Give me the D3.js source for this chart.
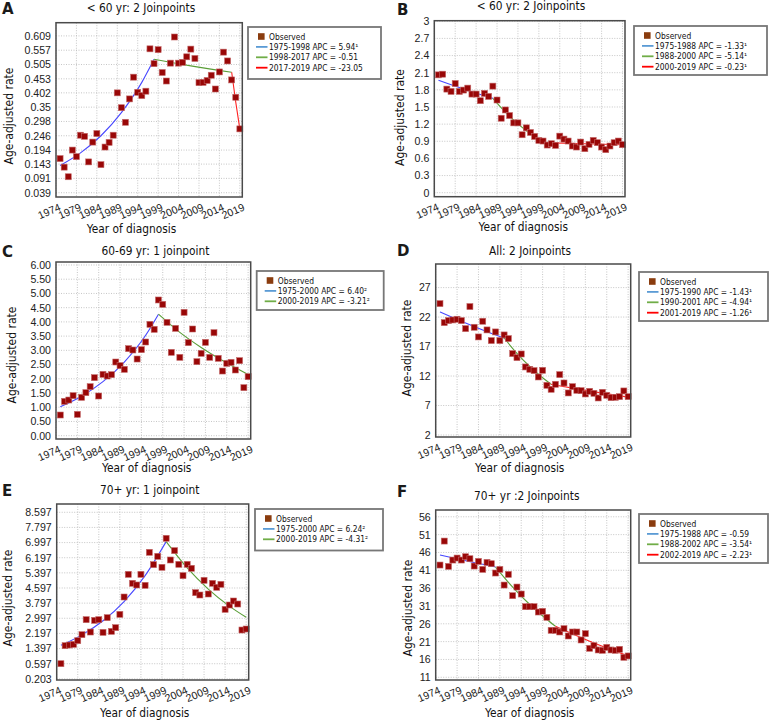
<!DOCTYPE html>
<html><head><meta charset="utf-8">
<script src="https://cdn.jsdelivr.net/npm/d3@7"></script>
<style>
body{margin:0;background:#fff}
svg{display:block;font-family:"DejaVu Sans Condensed","DejaVu Sans",sans-serif}
</style>
</head><body><svg id="c" width="771" height="724"></svg>
<script>
// ---------------- DATA ----------------
const years = [1975,1976,1977,1978,1979,1980,1981,1982,1983,1984,1985,1986,1987,1988,1989,1990,1991,1992,1993,1994,1995,1996,1997,1998,1999,2000,2001,2002,2003,2004,2005,2006,2007,2008,2009,2010,2011,2012,2013,2014,2015,2016,2017,2018,2019];
const xTickYears = [1974,1979,1984,1989,1994,1999,2004,2009,2014,2019];

const obsA = [0.163,0.132,0.097,0.194,0.170,0.248,0.244,0.151,0.223,0.254,
              0.141,0.205,0.222,0.248,0.402,0.348,0.295,0.380,0.459,0.404,
              0.392,0.408,0.562,0.508,0.559,0.476,0.445,0.510,0.605,0.510,
              0.513,0.533,0.561,0.527,0.439,0.440,0.447,0.466,0.416,0.478,
              0.550,0.518,0.449,0.386,0.271];
const obsB = [2.062,2.074,1.813,1.772,1.911,1.772,1.796,1.830,1.726,1.726,
              1.610,1.738,1.685,1.865,1.622,1.303,1.448,1.350,1.222,1.222,
              1.014,1.135,1.054,0.985,0.915,0.904,0.834,0.857,0.828,0.990,
              0.938,0.904,0.817,0.799,0.886,0.770,0.846,0.915,0.875,0.799,
              0.753,0.817,0.875,0.904,0.840];
const obsC = [0.727,1.207,1.254,1.406,0.750,1.348,1.512,1.723,2.039,1.395,
              2.156,2.098,2.145,2.590,2.461,2.332,3.059,3.012,2.695,3.024,
              3.293,3.914,3.738,4.770,4.617,3.984,2.930,3.773,2.754,4.336,
              3.270,3.750,2.602,2.895,3.281,2.754,3.621,2.719,2.273,2.543,
              2.578,2.309,2.637,1.688,2.074];
const obsD = [24.28,21.06,21.40,21.51,21.63,21.40,20.04,23.78,20.27,18.63,
              21.29,19.82,18.01,19.48,18.01,18.97,18.35,15.80,15.12,15.74,
              13.54,13.14,12.92,11.84,12.97,10.43,9.75,10.60,12.24,10.82,
              9.13,10.20,9.58,9.52,8.96,9.41,9.07,8.28,9.24,8.73,
              8.33,8.39,8.50,9.47,8.50];
const obsE = [0.597,1.549,1.584,1.619,1.813,2.130,2.923,2.271,2.888,2.923,
              2.253,3.029,2.306,2.500,3.205,4.121,5.319,4.844,4.756,5.319,
              4.738,6.482,5.830,6.271,5.690,7.223,6.077,6.571,5.848,5.249,
              5.848,5.637,4.350,4.227,5.002,4.280,4.844,4.632,4.791,3.469,
              3.698,3.910,3.751,2.377,2.430];
const obsF = [42.47,49.19,42.09,43.87,44.43,43.87,44.80,44.24,42.19,43.49,
              41.25,43.21,42.84,40.23,41.25,36.86,39.85,33.88,36.30,34.34,
              30.79,30.79,30.79,29.30,29.49,27.81,24.17,24.17,23.70,24.63,
              22.58,23.70,23.70,21.46,23.23,19.12,19.87,18.66,18.56,19.40,
              18.66,18.56,18.84,16.60,16.98];

// joinpoint trend segments
const trendA1 = [[1975,0.138],[1980,0.184],[1985,0.246],[1990,0.330],[1995,0.440],[1998,0.524]];
const trendA2 = [[1998,0.524],[2007,0.500],[2017,0.477]];
const trendA3 = [[2017,0.477],[2018,0.368],[2019,0.270]];
const trendB1 = [[1975,1.969],[1980,1.840],[1985,1.720],[1988,1.651]];
const trendB2 = [[1988,1.651],[1991,1.409],[1994,1.203],[1997,1.027],[2000,0.877]];
const trendB3 = [[2000,0.877],[2010,0.857],[2019,0.840]];
const trendC1 = [[1975,1.020],[1980,1.390],[1985,1.900],[1990,2.590],[1995,3.530],[1998,4.270]];
const trendC2 = [[1998,4.270],[2003,3.630],[2008,3.100],[2013,2.640],[2019,2.150]];
const trendD1 = [[1975,22.87],[1980,21.29],[1985,19.82],[1990,18.45]];
const trendD2 = [[1990,18.45],[1993,15.85],[1996,13.62],[1999,11.70],[2001,10.58]];
const trendD3 = [[2001,10.58],[2010,9.44],[2019,8.42]];
const trendE1 = [[1975,1.566],[1980,2.119],[1985,2.868],[1990,3.881],[1995,5.250],[2000,7.050]];
const trendE2 = [[2000,7.050],[2005,5.660],[2010,4.540],[2015,3.640],[2019,3.050]];
const trendF1 = [[1975,45.27],[1980,43.95],[1985,42.67],[1988,41.90]];
const trendF2 = [[1988,41.90],[1992,36.28],[1996,31.40],[2000,27.20],[2002,25.30]];
const trendF3 = [[2002,25.30],[2010,21.10],[2019,17.00]];

// y-axis ticks and their labels
const ticksA = [0.039,0.091,0.143,0.194,0.246,0.298,0.35,0.402,0.453,0.505,0.557,0.609];
const tickLabelsA = ["0.039","0.091","0.143","0.194","0.246","0.298","0.35","0.402","0.453","0.505","0.557","0.609"];
const ticksB = [0,0.3,0.6,0.9,1.2,1.5,1.8,2.1,2.4,2.7,3];
const tickLabelsB = ["0","0.3","0.6","0.9","1.2","1.5","1.8","2.1","2.4","2.7","3"];
const ticksC = [0,0.5,1,1.5,2,2.5,3,3.5,4,4.5,5,5.5,6];
const tickLabelsC = ["0.00","0.50","1.00","1.50","2.00","2.50","3.00","3.50","4.00","4.50","5.00","5.50","6.00"];
const ticksD = [2,7,12,17,22,27];
const tickLabelsD = ["2","7","12","17","22","27"];
const ticksE = [-0.203,0.597,1.397,2.197,2.997,3.797,4.597,5.397,6.197,6.997,7.797,8.597];
const tickLabelsE = ["0.203","0.597","1.397","2.197","2.997","3.797","4.597","5.397","6.197","6.997","7.797","8.597"];
const ticksF = [11,16,21,26,31,36,41,46,51,56];
const tickLabelsF = ["11","16","21","26","31","36","41","46","51","56"];

const legendA = ["1975-1998 APC = 5.94¹","1998-2017 APC = -0.51","2017-2019 APC = -23.05"];
const legendB = ["1975-1988 APC = -1.33¹","1988-2000 APC = -5.14¹","2000-2019 APC = -0.23¹"];
const legendC = ["1975-2000 APC = 6.40²","2000-2019 APC = -3.21²"];
const legendD = ["1975-1990 APC = -1.43¹","1990-2001 APC = -4.94¹","2001-2019 APC = -1.26¹"];
const legendE = ["1975-2000 APC =  6.24²","2000-2019 APC = -4.31²"];
const legendF = ["1975-1988 APC = -0.59","1988-2002 APC = -3.54¹","2002-2019 APC = -2.23¹"];
const titles = ["< 60 yr: 2 Joinpoints","< 60 yr: 2 Joinpoints","60-69 yr: 1 joinpoint","All: 2 Joinpoints","70+ yr: 1 joinpoint","70+ yr :2 Joinpoints"];
const letters = ["A","B","C","D","E","F"];

// ---------------- LAYOUT ----------------
const panels = [
 {obs:obsA, trends:[trendA1,trendA2,trendA3], ticks:ticksA, labels:tickLabelsA, legend:legendA,
  box:[56,22.7,242.3,197], ydom:[0.0234,0.657], title:[141,11.8], letter:[2,13.5], ytitle:[12.5,116], xtitle:[131.5,233], leg:[248,27,133,52]},
 {obs:obsB, trends:[trendB1,trendB2,trendB3], ticks:ticksB, labels:tickLabelsB, legend:legendB,
  box:[434.3,20.7,625,196.7], ydom:[-0.07,3.01], title:[531,10], letter:[397,15], ytitle:[404,117.5], xtitle:[523.3,231], leg:[634,26,133,49]},
 {obs:obsC, trends:[trendC1,trendC2], ticks:ticksC, labels:tickLabelsC, legend:legendC,
  box:[56,262,250.7,439], ydom:[-0.116,6.105], title:[155.5,254.7], letter:[2,257], ytitle:[16,355], xtitle:[146.7,472], leg:[256.7,271,127,39]},
 {obs:obsD, trends:[trendD1,trendD2,trendD3], ticks:ticksD, labels:tickLabelsD, legend:legendD,
  box:[435.7,264,630.7,437], ydom:[1.66,31.0], title:[530,255.3], letter:[397,256], ytitle:[410.5,348], xtitle:[519.7,472], leg:[639,272,129,49]},
 {obs:obsE, trends:[trendE1,trendE2], ticks:ticksE, labels:tickLabelsE, legend:legendE,
  box:[56.7,504,248.7,680], ydom:[-0.264,9.035], title:[149.7,494], letter:[2,496], ytitle:[12,598], xtitle:[144.7,717], leg:[255,509,128,41.5]},
 {obs:obsF, trends:[trendF1,trendF2,trendF3], ticks:ticksF, labels:tickLabelsF, legend:legendF,
  box:[435.7,510,630.7,680], ydom:[10.24,57.9], title:[526.8,499.7], letter:[397,497], ytitle:[412,608], xtitle:[529.7,717], leg:[639,514,129,49]}
];
const plotColors = ["#4646ff","#5a9e38","#ff2020"];
const legColors = ["#5b9bd5","#70ad47","#ff0000"];

const svg = d3.select("#c");

panels.forEach((p,pi)=>{
  const [x0,y0,x1,y1] = p.box;
  const x = d3.scaleLinear().domain([1974,2019.6]).range([x0,x1]);
  const y = d3.scaleLinear().domain(p.ydom).range([y1,y0]);
  const g = svg.append("g");

  // grid
  g.append("g").selectAll("line").data(xTickYears).join("line")
    .attr("x1",d=>x(d)).attr("x2",d=>x(d)).attr("y1",y0).attr("y2",y1)
    .attr("stroke","#b8b8b8").attr("stroke-width",0.8).attr("stroke-dasharray","1,1.5");
  g.append("g").selectAll("line").data(p.ticks).join("line")
    .attr("x1",x0).attr("x2",x1).attr("y1",d=>y(d)).attr("y2",d=>y(d))
    .attr("stroke","#b8b8b8").attr("stroke-width",0.8).attr("stroke-dasharray","1,1.5");

  // y axis
  const ya = g.append("g").attr("transform",`translate(${x0},0)`)
    .call(d3.axisLeft(y).tickValues(p.ticks).tickSize(0).tickPadding(5).tickFormat((d,i)=>p.labels[i]));
  ya.select(".domain").remove();
  ya.selectAll("text").attr("font-size",10.6).attr("fill","#222").attr("font-family",null);

  // x axis
  const xa = g.append("g").attr("transform",`translate(0,${y1})`)
    .call(d3.axisBottom(x).tickValues(xTickYears).tickSize(0).tickFormat(d3.format("d")));
  xa.select(".domain").remove();
  xa.selectAll("text").attr("font-size",10.6).attr("fill","#222").attr("font-family",null)
    .attr("x",0).attr("y",0).attr("dy",0).attr("text-anchor","end")
    .attr("transform","translate(5,13) rotate(-23)");

  // trend lines
  const line = d3.line().x(d=>x(d[0])).y(d=>y(d[1])).curve(d3.curveMonotoneX);
  p.trends.forEach((t,ti)=>{
    g.append("path").attr("d",line(t)).attr("fill","none")
      .attr("stroke",plotColors[ti]).attr("stroke-width",1.1);
  });

  // observed points
  const s = 6;
  g.append("g").selectAll("rect").data(p.obs).join("rect")
    .attr("x",(d,i)=>x(years[i])-s/2).attr("y",d=>y(d)-s/2)
    .attr("width",s).attr("height",s)
    .attr("fill","#990707").attr("stroke","#c46a6a").attr("stroke-width",0.6);

  // box
  g.append("rect").attr("x",x0).attr("y",y0).attr("width",x1-x0).attr("height",y1-y0)
    .attr("fill","none").attr("stroke","#4a4a4a").attr("stroke-width",1.5);

  // titles
  g.append("text").attr("x",p.title[0]).attr("y",p.title[1]).attr("text-anchor","middle")
    .attr("font-size",11.8).attr("fill","#111").text(titles[pi]);
  g.append("text").attr("x",p.letter[0]).attr("y",p.letter[1])
    .attr("font-size",15).attr("font-weight","bold").attr("font-family","DejaVu Sans, sans-serif")
    .attr("fill","#1a1a1a").text(letters[pi]);
  g.append("text").attr("transform",`translate(${p.ytitle[0]},${p.ytitle[1]}) rotate(-90)`)
    .attr("text-anchor","middle").attr("font-size",12).attr("fill","#111").text("Age-adjusted rate");
  g.append("text").attr("x",p.xtitle[0]).attr("y",p.xtitle[1]).attr("text-anchor","middle")
    .attr("font-size",11.8).attr("fill","#111").text("Year of diagnosis");

  // legend
  const [lx,ly,lw,lh] = p.leg;
  const lg = g.append("g").attr("transform",`translate(${lx},${ly})`);
  lg.append("rect").attr("width",lw).attr("height",lh).attr("fill","#fff")
    .attr("stroke","#777").attr("stroke-width",1.8);
  const rowH = 10.4, first = 9.5;
  lg.append("rect").attr("x",10).attr("y",first-3.3).attr("width",6.6).attr("height",6.6).attr("fill","#8a3c0e");
  lg.append("text").attr("x",21).attr("y",first+3).attr("font-size",8.4).attr("fill","#111").text("Observed");
  p.legend.forEach((t,i)=>{
    const cy = first + rowH*(i+1);
    lg.append("line").attr("x1",8).attr("x2",19.5).attr("y1",cy).attr("y2",cy)
      .attr("stroke",legColors[i]).attr("stroke-width",1.8);
    lg.append("text").attr("x",21).attr("y",cy+3).attr("font-size",8.4).attr("fill","#111").text(t);
  });
});
</script>
</body></html>
